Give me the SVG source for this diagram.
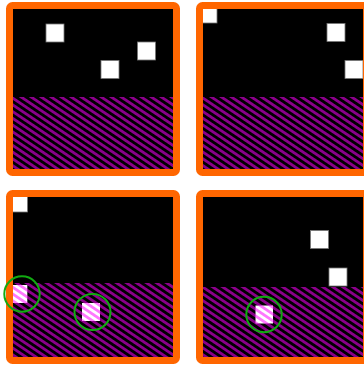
<svg xmlns="http://www.w3.org/2000/svg" width="364" height="365" viewBox="0 0 364 365">
<style>
.bg{fill:#000}
.hatch{fill:url(#purpleHatch)}
.frame{fill:none;stroke:#ff6600;stroke-width:7}
.sq{fill:#fff;stroke:#777;stroke-width:0.8}
.psq{fill:url(#pinkHatch)}
.ring{fill:none;stroke:#11aa11;stroke-width:2}
</style>
<defs>
<pattern id="purpleHatch" patternUnits="userSpaceOnUse" width="5.6" height="5.6" patternTransform="rotate(34)">
<rect width="5.6" height="5.6" fill="#000"/>
<rect width="5.6" height="2.8" fill="#8b008b"/>
</pattern>
<pattern id="pinkHatch" patternUnits="userSpaceOnUse" width="5.6" height="5.6" patternTransform="rotate(34)">
<rect width="5.6" height="5.6" fill="#fff"/>
<rect width="5.6" height="2.8" fill="#ff77ff"/>
</pattern>
</defs>
<g id="panel1">
<rect class="bg" x="9.5" y="5.5" width="167" height="167"/>
<rect class="hatch" x="9.5" y="97" width="167" height="75.5"/>
<rect class="sq" x="46" y="24" width="18" height="18"/>
<rect class="sq" x="137.5" y="42" width="18" height="18"/>
<rect class="sq" x="101" y="60.5" width="18" height="18"/>
<rect class="frame" x="9.5" y="5.5" width="167" height="167" rx="3"/>
</g>
<g id="panel2">
<rect class="bg" x="199.5" y="5.5" width="167" height="167"/>
<rect class="hatch" x="199.5" y="97" width="167" height="75.5"/>
<rect class="sq" x="199" y="5" width="18" height="18"/>
<rect class="sq" x="327" y="23.5" width="18" height="18"/>
<rect class="sq" x="345" y="60.5" width="18" height="18"/>
<rect class="frame" x="199.5" y="5.5" width="167" height="167" rx="3"/>
</g>
<g id="panel3">
<rect class="bg" x="9.5" y="193.5" width="167" height="167"/>
<rect class="hatch" x="9.5" y="283" width="167" height="77.5"/>
<rect class="sq" x="9.5" y="194" width="18" height="18"/>
<rect class="psq" x="9.3" y="285" width="18" height="18"/>
<rect class="psq" x="82" y="303" width="18" height="18"/>
<rect class="frame" x="9.5" y="193.5" width="167" height="167" rx="3"/>
<circle class="ring" cx="22" cy="294" r="17.7"/>
<circle class="ring" cx="92.5" cy="312" r="18"/>
</g>
<g id="panel4">
<rect class="bg" x="199.5" y="193.5" width="167" height="167"/>
<rect class="hatch" x="199.5" y="287" width="167" height="73.5"/>
<rect class="sq" x="310.5" y="230.5" width="18" height="18"/>
<rect class="sq" x="329" y="268" width="18" height="18"/>
<rect class="psq" x="255.5" y="305.5" width="17.5" height="18"/>
<rect class="frame" x="199.5" y="193.5" width="167" height="167" rx="3"/>
<circle class="ring" cx="264" cy="314.5" r="17.7"/>
</g>
<g id="connectors"/>
</svg>
